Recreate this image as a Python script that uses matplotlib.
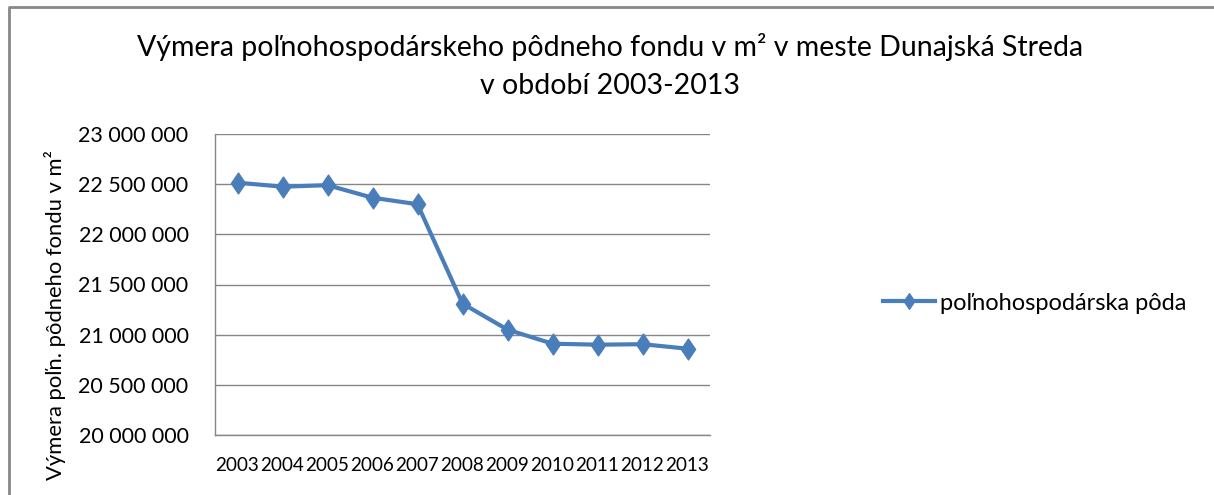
import matplotlib
matplotlib.use("Agg")
import matplotlib.pyplot as plt
from matplotlib.path import Path
from matplotlib.lines import Line2D
from matplotlib.ticker import FuncFormatter

plt.rcParams['font.family'] = ['Lato', 'DejaVu Sans']

years = ['2003', '2004', '2005', '2006', '2007', '2008', '2009', '2010', '2011', '2012', '2013']
values = [22515000, 22475000, 22490000, 22365000, 22300000, 21310000, 21050000,
          20910000, 20900000, 20905000, 20860000]
series_name = 'poľnohospodárska pôda'
title = 'Výmera poľnohospodárskeho pôdneho fondu v m² v meste Dunajská Streda\nv období 2003-2013'
ylabel = 'Výmera poľn. pôdneho fondu v m²'

W, H = 1214, 495
fig = plt.figure(figsize=(W / 100, H / 100), dpi=100)
ax = fig.add_axes([215 / W, 1 - 435 / H, (710 - 215) / W, (435 - 134) / H])

blue = '#4A7EBB'
diamond = Path([(0, 1), (0.68, 0), (0, -1), (-0.68, 0), (0, 1)],
               [Path.MOVETO, Path.LINETO, Path.LINETO, Path.LINETO, Path.CLOSEPOLY])
x = list(range(len(years)))
ax.plot(x, values, color=blue, lw=3.0, marker=diamond, markersize=15,
        markerfacecolor=blue, markeredgecolor=blue, label=series_name, zorder=3)

ax.set_xlim(-0.5, len(years) - 0.5)
ax.set_ylim(20000000, 23000000)
ax.set_yticks(range(20000000, 23000001, 500000))
ax.yaxis.set_major_formatter(FuncFormatter(lambda v, p: f'{int(v):,}'.replace(',', ' ')))
ax.set_xticks(x)
ax.set_xticklabels(years)
ax.grid(axis='y', color='#868686', lw=1.0)
ax.set_axisbelow(True)
for s in ['top', 'right']:
    ax.spines[s].set_visible(False)
for s in ['left', 'bottom']:
    ax.spines[s].set_color('#868686')
    ax.spines[s].set_linewidth(1.0)
ax.tick_params(axis='both', length=0, colors='#000000')
ax.tick_params(axis='y', pad=19, labelsize=15.5)
ax.tick_params(axis='x', pad=16, labelsize=13.6)

fig.text(610 / W, 1 - 66 / H, title, ha='center', va='center', fontsize=20.5,
         linespacing=1.55)
fig.text(55 / W, 1 - 150 / H, ylabel, rotation=90, ha='center', va='top', fontsize=15.8)

fig.legend(loc='center left', bbox_to_anchor=(883 / W, 1 - 303 / H), frameon=False,
           fontsize=17, handlelength=2.2, handletextpad=0.2, borderpad=0,
           borderaxespad=0, markerscale=0.75)

fig.add_artist(Line2D([9 / W, 9 / W, 1.0], [0.0, 1 - 7 / H, 1 - 7 / H],
                      transform=fig.transFigure, color='#888888', lw=2.0))

fig.savefig('out.png', dpi=100)
